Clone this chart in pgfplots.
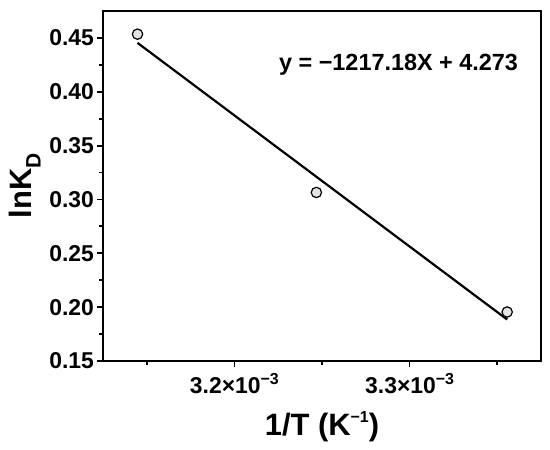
\documentclass[border=0pt]{standalone}
\usepackage{fontspec}
\setmainfont{Liberation Sans}
\usepackage{pgfplots}
\pgfplotsset{compat=1.18}
\newcommand\sups[1]{\raisebox{0.42em}{\fontsize{16}{16}\selectfont #1}}
\newcommand\subs[1]{\raisebox{-0.28em}{\fontsize{21}{21}\selectfont #1}}

\begin{document}
\begin{tikzpicture}
  \begin{axis}[
      scale only axis,
      width=438bp, height=350bp,
      xmin=3.125e-3, xmax=3.375e-3,
      ymin=0.15, ymax=0.475,
      xtick={3.2e-3,3.3e-3},
      xticklabels={3.2×10\sups{−3},3.3×10\sups{−3}},
      minor xtick={3.15e-3,3.25e-3,3.35e-3},
      ytick={0.15,0.20,0.25,0.30,0.35,0.40,0.45},
      minor ytick={0.175,0.225,0.275,0.325,0.375,0.425},
      scaled x ticks=false,
      yticklabel style={/pgf/number format/fixed,/pgf/number format/fixed zerofill,/pgf/number format/precision=2},
      /pgf/number format/assume math mode=true,
      tick align=outside,
      xtick pos=bottom, ytick pos=left,
      major tick length=5.5bp, minor tick length=3.5bp,
      every tick/.style={black, line width=1.8pt},
      axis line style={line width=2.4pt},
      ticklabel style={font=\fontsize{23}{23}\selectfont\bfseries},
      xticklabel style={yshift=-3bp},
      label style={font=\fontsize{31}{31}\selectfont\bfseries},
      xlabel={1/T (K\sups{−1})},
      xlabel style={yshift=-11bp},
      ylabel={lnK\subs{D}},
      ylabel style={yshift=2bp},
      clip=false,
    ]
    \addplot[black, line width=2.2pt] coordinates {
      (3.1447e-3,0.4454) (3.3557e-3,0.1885)
    };
    \addplot[only marks, mark=*, mark size=5.2pt,
      mark options={draw=black, fill=gray!22, line width=1.2pt}] coordinates {
      (3.1447e-3,0.4535) (3.2468e-3,0.3065) (3.3557e-3,0.1955)
    };
    \node[font=\fontsize{23.5}{23.5}\selectfont\bfseries] at (axis cs:3.2937e-3,0.425)
      {y = −1217.18X + 4.273};
  \end{axis}
  \pgfresetboundingbox
  \path (current axis.south west) ++(-103bp,-89bp) rectangle ++(550bp,450bp);
\end{tikzpicture}
\end{document}
